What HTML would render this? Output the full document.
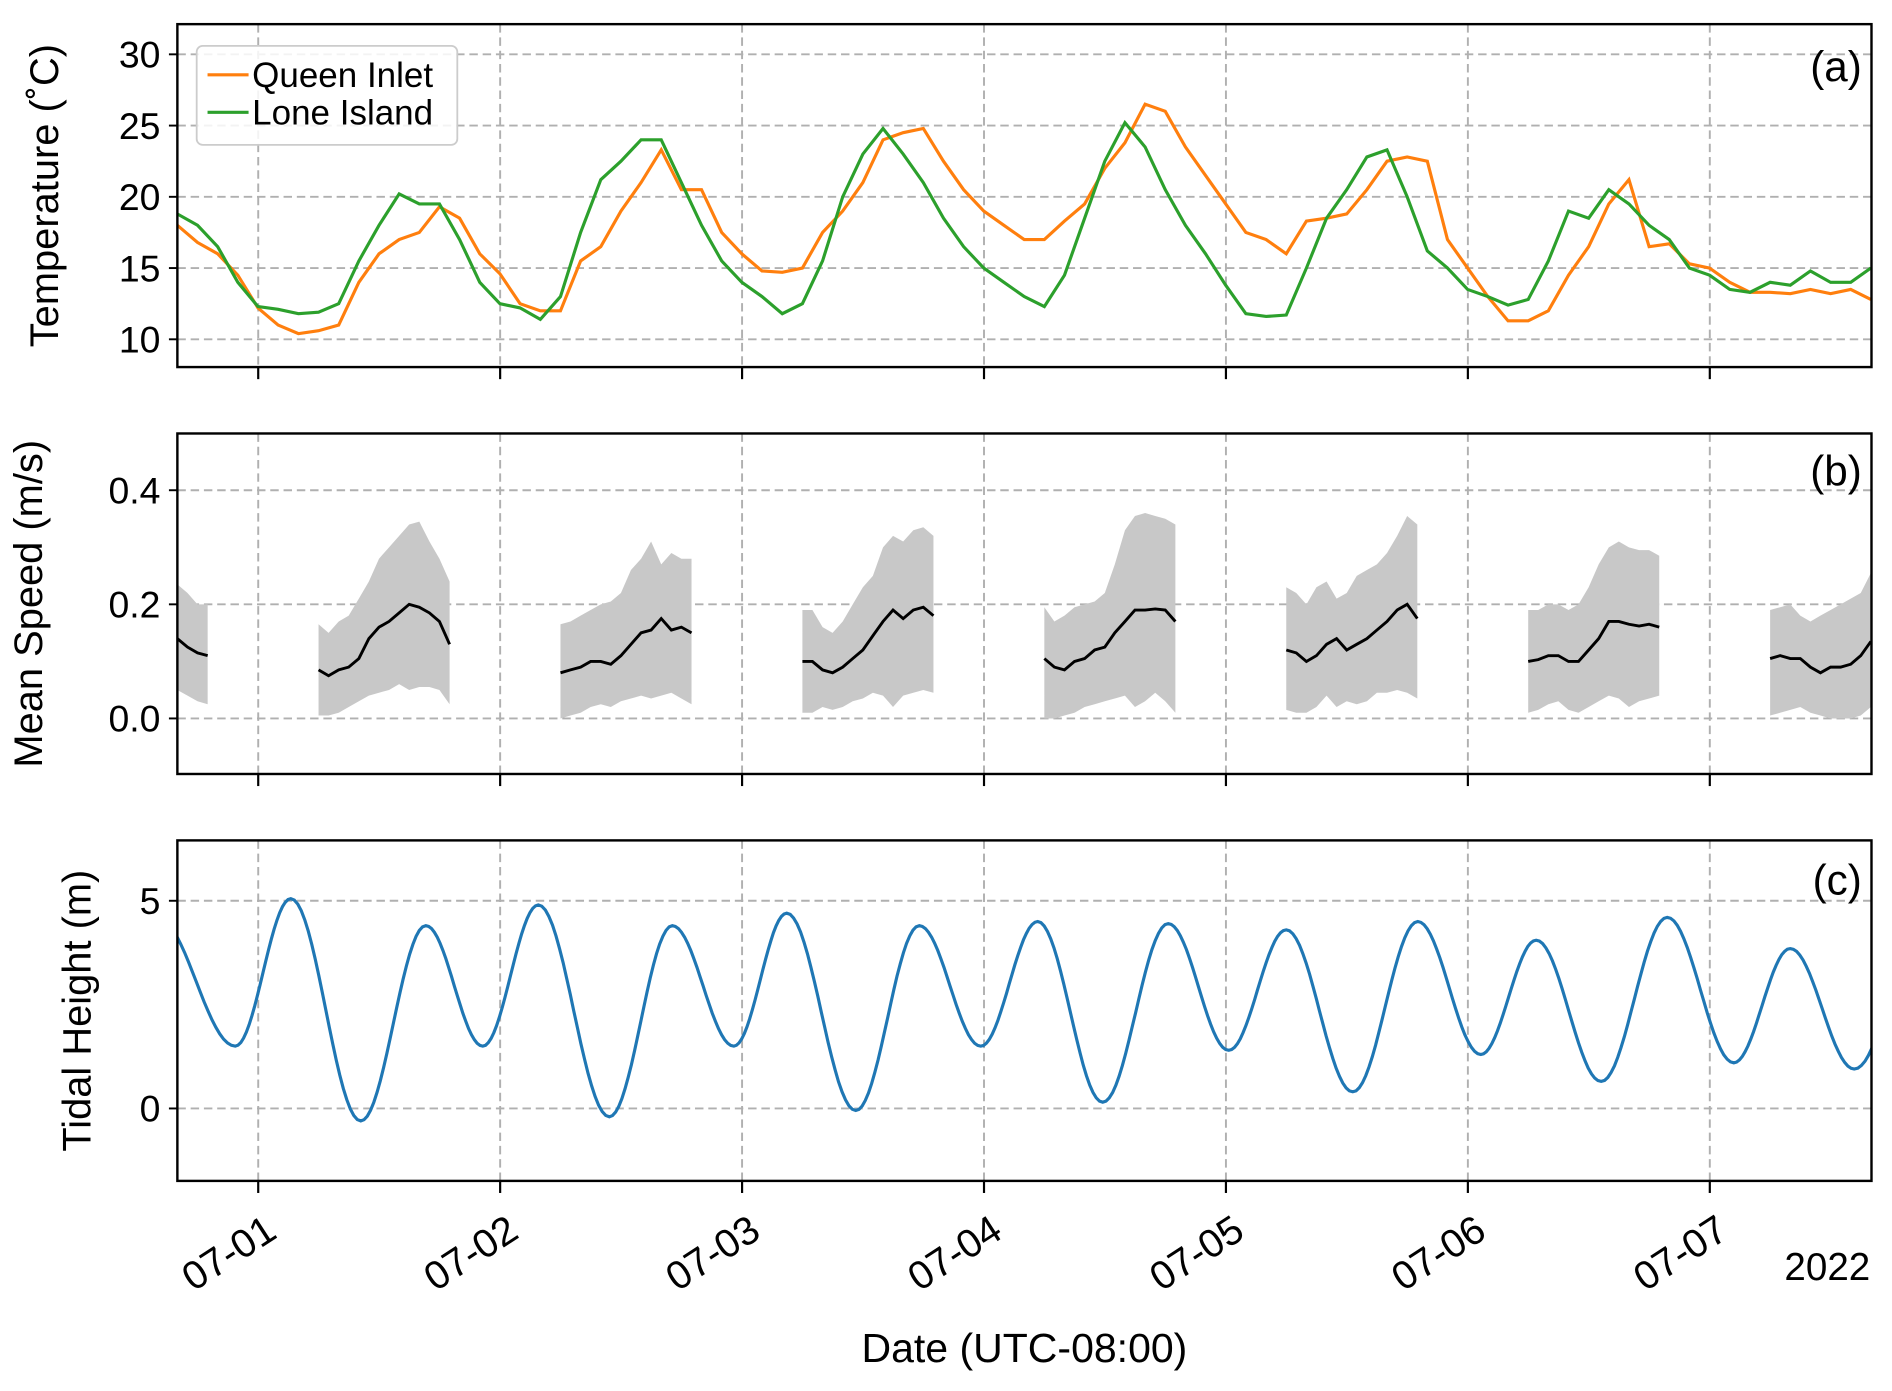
<!DOCTYPE html>
<html><head><meta charset="utf-8"><style>
html,body{margin:0;padding:0;background:#fff;}
svg{display:block;font-family:"Liberation Sans",Arial,sans-serif;}
</style></head><body>
<svg id="chart" width="1892" height="1391" viewBox="0 0 1568 1152" preserveAspectRatio="none" xmlns="http://www.w3.org/2000/svg"></svg>
<script>
// ---- data ----
const dayLabels = ["07-01","07-02","07-03","07-04","07-05","07-06","07-07"];
const tempTicks = [10,15,20,25,30];
const speedTicks = [0.0,0.2,0.4];
const speedTickLabels = ["0.0","0.2","0.4"];
const tideTicks = [0,5];
// temperature every 2 h starting 06-30 16:00
const queenTemp = [18,16.8,16,14.5,12.2,11,10.4,10.6,11,14,16,17,17.5,19.3,18.5,16,14.6,12.5,12,12,15.5,16.5,19,21,23.3,20.5,20.5,17.5,16,14.8,14.7,15,17.5,19,21,24,24.5,24.8,22.5,20.5,19,18,17,17,18.3,19.5,22,23.8,26.5,26,23.5,21.5,19.5,17.5,17,16,18.3,18.5,18.8,20.5,22.5,22.8,22.5,17,15,13,11.3,11.3,12,14.5,16.5,19.5,21.2,16.5,16.7,15.3,15,14,13.3,13.3,13.2,13.5,13.2,13.5,12.8];
const loneTemp = [18.8,18,16.5,14,12.3,12.1,11.8,11.9,12.5,15.5,18,20.2,19.5,19.5,17,14,12.5,12.2,11.4,13,17.5,21.2,22.5,24,24,21,18,15.5,14,13,11.8,12.5,15.5,20,23,24.8,23,21,18.5,16.5,15,14,13,12.3,14.5,18.5,22.5,25.2,23.5,20.5,18,16,13.8,11.8,11.6,11.7,15,18.5,20.5,22.8,23.3,20,16.2,15,13.5,13,12.4,12.8,15.5,19,18.5,20.5,19.5,18,17,15,14.5,13.5,13.3,14,13.8,14.8,14,14,15];
// speed segments: start hour (from 06-30 16:00), hourly values
const segStart = [0,14,38,62,86,110,134,158];
const segMean = [
[.14,.125,.115,.11],
[.085,.075,.085,.09,.105,.14,.16,.17,.185,.20,.195,.185,.17,.13],
[.08,.085,.09,.10,.10,.095,.11,.13,.15,.155,.175,.155,.16,.15],
[.10,.10,.085,.08,.09,.105,.12,.145,.17,.19,.175,.19,.195,.18],
[.105,.09,.085,.10,.105,.12,.125,.15,.17,.19,.19,.192,.19,.17],
[.12,.115,.10,.11,.13,.14,.12,.13,.14,.155,.17,.19,.20,.175],
[.10,.103,.11,.11,.10,.10,.12,.14,.17,.17,.165,.162,.165,.16],
[.105,.11,.105,.105,.09,.08,.09,.09,.095,.11,.135]];
const segHi = [
[.235,.22,.20,.20],
[.165,.15,.17,.18,.21,.24,.28,.30,.32,.34,.345,.31,.28,.24],
[.165,.17,.18,.19,.20,.205,.22,.26,.28,.31,.27,.29,.28,.28],
[.19,.19,.16,.15,.17,.20,.23,.25,.30,.32,.31,.33,.335,.32],
[.195,.17,.18,.195,.20,.205,.22,.27,.33,.355,.36,.355,.35,.34],
[.23,.22,.20,.23,.24,.21,.22,.25,.26,.27,.29,.32,.355,.34],
[.19,.19,.20,.20,.19,.20,.23,.27,.30,.31,.30,.295,.295,.285],
[.19,.195,.20,.18,.17,.18,.19,.20,.21,.22,.255]];
const segLo = [
[.05,.04,.03,.025],
[.005,.005,.01,.02,.03,.04,.045,.05,.06,.05,.055,.055,.05,.025],
[0,.005,.01,.02,.025,.02,.03,.035,.04,.035,.04,.045,.035,.025],
[.01,.01,.02,.015,.02,.03,.035,.045,.04,.02,.04,.045,.05,.045],
[0,0,.005,.01,.02,.025,.03,.035,.04,.02,.03,.045,.03,.01],
[.015,.01,.01,.02,.04,.02,.03,.025,.03,.045,.045,.05,.045,.035],
[.01,.015,.025,.03,.015,.01,.02,.03,.04,.035,.02,.03,.035,.04],
[.005,.01,.015,.02,.01,.005,0,0,0,.005,.02]];
// tide extrema: hours, height
const tideHours = [-2,5.75,11.25,18.2,24.65,30.3,35.8,42.85,49.1,55.2,60.45,67.3,73.6,79.7,85.35,91.8,98.3,104.3,110,116.6,123.05,129.3,134.8,141.25,147.8,154.4,160,166.35,173.4];
const tideHeights = [4.6,1.5,5.05,-0.3,4.4,1.5,4.9,-0.2,4.4,1.5,4.7,-0.05,4.4,1.5,4.5,0.15,4.45,1.4,4.3,0.4,4.5,1.3,4.05,0.65,4.6,1.1,3.85,0.95,4.4];

// ---- layout ----
const NS="http://www.w3.org/2000/svg";
const svg=document.getElementById('chart');
const L=147,R=1551;
const xH=h=>L+h*200.5/24;
const xDay=d=>214+d*200.5;
const yT=v=>281-(v-10)*11.8;
const yS=v=>595-v*472.5;
const yC=v=>918-v*34.4;
const panels=[{t:20,b:304},{t:359,b:641},{t:696,b:978}];
function el(tag,attrs,parent){const e=document.createElementNS(NS,tag);for(const k in attrs)e.setAttribute(k,attrs[k]);(parent||svg).appendChild(e);return e;}
const defs=el('defs',{});
panels.forEach((p,i)=>{const c=el('clipPath',{id:'clip'+i},defs);el('rect',{x:L,y:p.t,width:R-L,height:p.b-p.t},c);});

function grid(pi,yvals,yf,labels,g){
  const p=panels[pi];
  dayLabels.forEach((d,i)=>{const x=xDay(i);
    const l=el('line',{x1:x,x2:x,y1:p.t,y2:p.b,stroke:'#b0b0b0','stroke-width':1.6,'stroke-dasharray':'7,4'},g);
    
    
    const t=el('line',{x1:x,x2:x,y1:p.b,y2:p.b+10,stroke:'#000','stroke-width':1.8},g);
    
    
  });
  yvals.forEach((v,i)=>{const y=yf(v);
    const l=el('line',{x1:L,x2:R,y1:y,y2:y,stroke:'#b0b0b0','stroke-width':1.6,'stroke-dasharray':'7,4'},g);
    
    
    el('line',{x1:L-7,x2:L,y1:y,y2:y,stroke:'#000','stroke-width':1.6},g);
    const t=el('text',{x:L-14,y:y+11,'text-anchor':'end','font-size':31},g);
    t.textContent=labels[i];
    
    
  });
}
function frame(pi,g){const p=panels[pi];
  const f=el('rect',{x:L,y:p.t,width:R-L,height:p.b-p.t,fill:'none',stroke:'#000','stroke-width':2},g);
  
  
}
function ylabel(text,x,y,g,name){const t=el('text',{x:x,y:y,'text-anchor':'middle','font-size':33,transform:`rotate(-90 ${x} ${y})`},g);t.textContent=text;
  
  }
function plabel(text,y,g){const t=el('text',{x:1543,y:y,'text-anchor':'end','font-size':35},g);t.textContent=text;
  
  }

// Panel a
const ga=el('g',{});
grid(0,tempTicks,yT,tempTicks.map(String),ga);
function tline(arr,color,name){const pts=arr.map((v,i)=>xH(i*2).toFixed(1)+','+yT(v).toFixed(1)).join(' ');
  const pl=el('polyline',{points:pts,fill:'none',stroke:color,'stroke-width':2.6,'clip-path':'url(#clip0)'},ga);
  
  }
tline(queenTemp,'#ff7f0e','queen-inlet-line');
tline(loneTemp,'#2ca02c','lone-island-line');
frame(0,ga);
const lg=el('g',{},ga);
el('rect',{x:163,y:38,width:216,height:82,rx:5,fill:'#fff','fill-opacity':0.85,stroke:'#ccc','stroke-width':1.5},lg);
[['Queen Inlet','#ff7f0e',62],['Lone Island','#2ca02c',93]].forEach(([n,c,y])=>{
  el('line',{x1:172,x2:206,y1:y,y2:y,stroke:c,'stroke-width':2.6},lg);
  const t=el('text',{x:209,y:y+10,'font-size':29},lg);t.textContent=n;
  
  
});
ylabel('Temperature (\u02DAC)',48,162,ga,'y-axis-title-temperature');
plabel('(a)',67,ga);

// Panel b
const gb=el('g',{});
grid(1,speedTicks,yS,speedTickLabels,gb);
segStart.forEach((s,k)=>{
  const up=segHi[k].map((v,i)=>xH(s+i).toFixed(1)+','+yS(v).toFixed(1));
  const dn=segLo[k].map((v,i)=>xH(s+i).toFixed(1)+','+yS(v).toFixed(1)).reverse();
  const band=el('polygon',{points:up.concat(dn).join(' '),fill:'#c8c8c8','clip-path':'url(#clip1)'},gb);
  
  
  const m=el('polyline',{points:segMean[k].map((v,i)=>xH(s+i).toFixed(1)+','+yS(v).toFixed(1)).join(' '),fill:'none',stroke:'#000','stroke-width':2.4,'clip-path':'url(#clip1)'},gb);
  
  
});
frame(1,gb);
ylabel('Mean Speed (m/s)',35,500,gb,'y-axis-title-speed');
plabel('(b)',402,gb);

// Panel c
const gc=el('g',{});
grid(2,tideTicks,yC,tideTicks.map(String),gc);
let tp=[];
for(let k=0;k<tideHours.length-1;k++){
  const h0=tideHours[k],h1=tideHours[k+1],v0=tideHeights[k],v1=tideHeights[k+1];
  for(let j=0;j<20;j++){const f=j/20;const h=h0+(h1-h0)*f;const v=v0+(v1-v0)*(1-Math.cos(Math.PI*f))/2;
    tp.push(xH(h).toFixed(1)+','+yC(v).toFixed(1));}
}
const tl=el('polyline',{points:tp.join(' '),fill:'none',stroke:'#1f77b4','stroke-width':2.6,'clip-path':'url(#clip2)'},gc);


frame(2,gc);
ylabel('Tidal Height (m)',75,837,gc,'y-axis-title-tide');
plabel('(c)',741,gc);

// x labels
dayLabels.forEach((d,i)=>{const x=xDay(i)+4,y=1004;
  const t=el('text',{x:x,y:y+24,'text-anchor':'end','font-size':33,transform:`rotate(-33 ${x} ${y})`});
  t.textContent=d;
  
  
});
const yr=el('text',{x:1550,y:1060,'text-anchor':'end','font-size':32});yr.textContent='2022';


const xt=el('text',{x:849,y:1128,'text-anchor':'middle','font-size':34});xt.textContent='Date (UTC-08:00)';


</script>
</body></html>
